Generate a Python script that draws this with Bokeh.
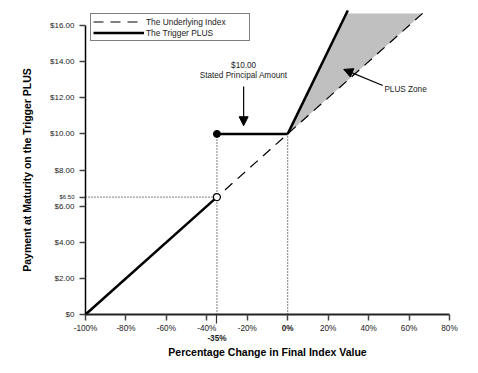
from bokeh.plotting import figure
from bokeh.models import Range1d, FixedTicker, Label, Arrow, NormalHead, Legend, LegendItem, LinearAxis
from bokeh.embed import file_html
from bokeh.resources import INLINE

FONT = "Liberation Sans"

# ---- data ----
x_ticks = [-100, -80, -60, -40, -20, 0, 20, 40, 60, 80]
x_tick_labels = {-100: "-100%", -80: "-80%", -60: "-60%", -40: "-40%",
                 -20: "-20%", 0: "", 20: "20%", 40: "40%", 60: "60%", 80: "80%"}
y_ticks = [0, 2, 4, 6, 8, 10, 12, 14, 16]
y_tick_labels = {0: "$0", 2: "$2.00", 4: "$4.00", 6: "$6.00", 8: "$8.00",
                 10: "$10.00", 12: "$12.00", 14: "$14.00", 16: "$16.00"}

trigger_level = -35
principal = 10.0
trigger_value = 6.5

index_x = [-100, 66.7]
index_y = [0, 16.67]

trig_down_x = [-100, trigger_level]
trig_down_y = [0, trigger_value]
trig_flat_x = [trigger_level, 0]
trig_flat_y = [principal, principal]
trig_up_x = [0, 29.7]
trig_up_y = [principal, 16.83]

zone_x = [0, 29.0, 66.7]
zone_y = [principal, 16.67, 16.67]

W, H = 466, 362
p = figure(width=W, height=H, x_range=Range1d(-142.03, 88.41), y_range=Range1d(-2.657, 17.384),
           output_backend="svg", toolbar_location=None, min_border=0)
p.grid.visible = False
p.outline_line_color = None
p.xaxis.visible = False
p.yaxis.visible = False


def style_axis(ax, size="8.2px", bold=False):
    ax.axis_line_color = "black"
    ax.axis_line_width = 1.5
    ax.major_tick_line_color = "#444444"
    ax.major_tick_line_width = 1.5
    ax.major_tick_in = 0
    ax.major_tick_out = 6
    ax.minor_tick_line_color = None
    ax.major_label_text_font = FONT
    ax.major_label_text_font_size = size
    ax.major_label_text_font_style = "bold" if bold else "normal"
    ax.major_label_text_color = "#222222"
    ax.axis_label_text_font = FONT
    ax.axis_label_text_font_size = "10.5px"
    ax.axis_label_text_font_style = "bold"
    ax.axis_label_text_color = "black"


# main x axis
xa = LinearAxis(fixed_location=0, ticker=FixedTicker(ticks=x_ticks, minor_ticks=[]),
                major_label_overrides=x_tick_labels, bounds=(-100, 80),
                axis_label="Percentage Change in Final Index Value")
style_axis(xa)
xa.axis_line_color = "#222222"
xa.axis_line_width = 2
xa.major_label_standoff = 3
xa.axis_label_standoff = 10
p.add_layout(xa, "below")

# bold 0% label
xa0 = LinearAxis(fixed_location=0, ticker=FixedTicker(ticks=[0], minor_ticks=[]),
                 major_label_overrides={0: "0%"}, bounds=(-100, 80))
style_axis(xa0, bold=True)
xa0.axis_line_color = None
xa0.major_tick_line_color = None
xa0.major_label_standoff = 3
p.add_layout(xa0, "below")

# trigger level tick and bold label
xa35 = LinearAxis(fixed_location=0, ticker=FixedTicker(ticks=[trigger_level], minor_ticks=[]),
                  major_label_overrides={trigger_level: "-35%"}, bounds=(-100, 80))
style_axis(xa35, bold=True)
xa35.axis_line_color = None
xa35.major_tick_line_color = "#333333"
xa35.major_tick_line_width = 1.2
xa35.major_tick_out = 9
xa35.major_label_standoff = 10
p.add_layout(xa35, "below")

# main y axis
ya = LinearAxis(fixed_location=-100, ticker=FixedTicker(ticks=y_ticks, minor_ticks=[]),
                major_label_overrides=y_tick_labels, bounds=(0, 16),
                axis_label="Payment at Maturity on the Trigger PLUS")
style_axis(ya, size="8px")
ya.major_label_standoff = 5
ya.axis_label_standoff = 14
p.add_layout(ya, "left")

# trigger value tick
ya65 = LinearAxis(fixed_location=-100, ticker=FixedTicker(ticks=[trigger_value], minor_ticks=[]),
                  major_label_overrides={trigger_value: "$6.50"}, bounds=(0, 16))
style_axis(ya65, size="6px")
ya65.axis_line_color = None
ya65.major_label_standoff = 5
p.add_layout(ya65, "left")

# fill zone
p.patch(zone_x, zone_y, fill_color="#c0c0c0", line_color=None)

# dotted guides
p.line([trigger_level, trigger_level], [0, principal], line_color="black", line_width=1, line_dash="1 2")
p.line([0, 0], [0, principal], line_color="black", line_width=1, line_dash="1 2")
p.line([-100, trigger_level], [trigger_value, trigger_value], line_color="black", line_width=1, line_dash="1 2")

# underlying index (dashed)
r_idx = p.line(index_x, index_y, line_color="black", line_width=1.2, line_dash="10 7")

# trigger PLUS
r_trig = p.line(trig_down_x, trig_down_y, line_color="black", line_width=2.5)
p.line(trig_flat_x, trig_flat_y, line_color="black", line_width=2.5)
p.line(trig_up_x, trig_up_y, line_color="black", line_width=2.5)

p.scatter([trigger_level], [principal], size=7, fill_color="black", line_color="black")
p.scatter([trigger_level], [trigger_value], size=7, fill_color="white", line_color="black", line_width=1.2)


def lab(x, y, text, size="8.2px", align="center"):
    p.add_layout(Label(x=x, y=y, text=text, text_font=FONT, text_font_size=size,
                       text_align=align, text_baseline="middle", text_color="#222222"))


lab(-21.8, 13.79, "$10.00")
lab(-21.8, 13.23, "Stated Principal Amount")
lab(47.8, 12.46, "PLUS Zone", align="left")

p.add_layout(Arrow(end=NormalHead(size=9, fill_color="black", line_color="black"),
                   x_start=-21.8, y_start=12.62, x_end=-21.8, y_end=10.45,
                   line_color="black", line_width=1.2))
p.add_layout(Arrow(end=NormalHead(size=9, fill_color="black", line_color="black"),
                   x_start=47, y_start=12.68, x_end=27.7, y_end=13.57,
                   line_color="black", line_width=1.2))

legend = Legend(items=[LegendItem(label="The Underlying Index", renderers=[r_idx]),
                       LegendItem(label="The Trigger PLUS", renderers=[r_trig])],
                location=(90, 321))
legend.border_line_color = "black"
legend.border_line_width = 1
legend.label_text_font = FONT
legend.label_text_font_size = "8.4px"
legend.label_text_color = "#222222"
legend.glyph_width = 51
legend.glyph_height = 11
legend.label_height = 11
legend.label_width = 101
legend.spacing = 0
legend.padding = 2
legend.label_standoff = 2
legend.margin = 0
p.add_layout(legend)

open("out.html", "w").write(file_html(p, INLINE))
